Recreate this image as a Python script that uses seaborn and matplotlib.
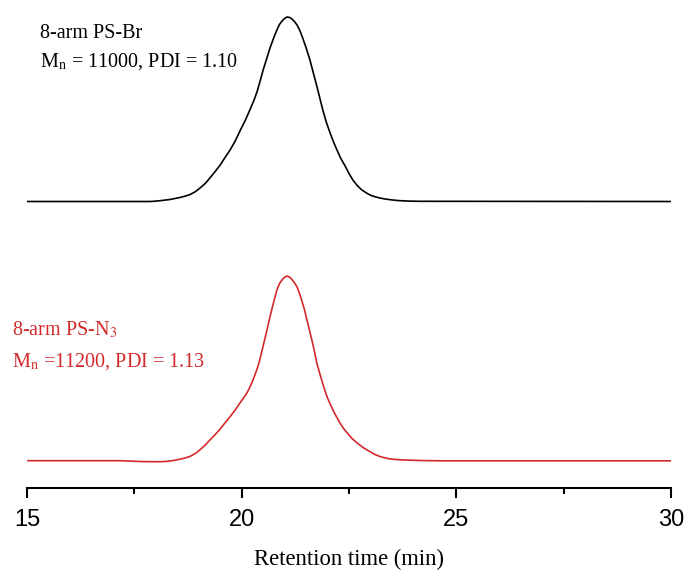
import numpy as np
import pandas as pd
import seaborn as sns
import matplotlib.pyplot as plt

# GPC traces, detector response (a.u.) above each trace's own baseline
br_time = [15.0, 17.86, 17.98, 18.10, 18.33, 18.56, 18.68, 18.80, 18.92, 19.03,
           19.15, 19.26, 19.38, 19.50, 19.61, 19.73, 19.85, 19.96, 20.08, 20.19,
           20.28, 20.36, 20.43, 20.50, 20.58, 20.66, 20.74, 20.82, 20.88, 20.94,
           21.00, 21.06, 21.12, 21.17, 21.23, 21.29, 21.36, 21.43, 21.51, 21.59,
           21.67, 21.75, 21.82, 21.89, 21.97, 22.06, 22.14, 22.22, 22.31, 22.41,
           22.50, 22.59, 22.69, 22.80, 22.90, 22.99, 23.10, 23.22, 23.34, 23.46,
           23.58, 23.69, 23.90, 24.15, 30.0]
br_signal = [0, 0, 0.3, 0.8, 2.0, 4.0, 5.3, 7.0, 9.8, 13.5,
             18.0, 23.5, 29.8, 36.5, 43.8, 51.5, 60.5, 70.5, 80.8, 91.5,
             100.5, 110.0, 120.5, 131.5, 142.5, 153.5, 163.0, 171.5, 177.0, 180.5,
             183.0, 184.5, 184.0, 182.5, 180.0, 176.5, 170.5, 162.5, 152.5, 141.5,
             128.5, 115.5, 103.5, 91.5, 79.5, 68.5, 59.5, 51.5, 43.0, 35.5,
             28.0, 21.5, 16.0, 11.5, 8.7, 6.5, 4.8, 3.5, 2.5, 1.8,
             1.2, 0.8, 0.4, 0.2, 0]

n3_time = [15.0, 17.17, 17.40, 17.63, 17.86, 18.10, 18.22, 18.33, 18.45, 18.56,
           18.68, 18.80, 18.92, 19.03, 19.15, 19.26, 19.38, 19.50, 19.61, 19.73,
           19.85, 19.96, 20.04, 20.12, 20.18, 20.24, 20.30, 20.36, 20.42, 20.47,
           20.53, 20.59, 20.65, 20.71, 20.77, 20.82, 20.88, 20.94, 21.00, 21.06,
           21.12, 21.17, 21.23, 21.29, 21.35, 21.41, 21.47, 21.52, 21.58, 21.64,
           21.70, 21.75, 21.81, 21.87, 21.93, 21.99, 22.07, 22.15, 22.22, 22.29,
           22.38, 22.48, 22.58, 22.69, 22.84, 22.99, 23.10, 23.22, 23.34, 23.46,
           23.69, 23.92, 24.25, 24.62, 30.0]
n3_signal = [0, 0, -0.4, -0.8, -1.0, -1.0, -0.8, -0.3, 0.5, 1.5,
             2.7, 4.3, 7.2, 11.0, 15.6, 20.7, 26.0, 31.7, 37.7, 44.0,
             50.7, 57.7, 62.5, 67.5, 72.5, 78.2, 84.8, 91.8, 100.5, 109.5,
             120.0, 130.7, 142.0, 152.7, 162.5, 170.7, 177.0, 180.7, 183.5, 184.7,
             183.5, 181.2, 178.0, 173.7, 167.0, 158.7, 150.0, 140.7, 130.5, 119.7,
             108.5, 97.7, 88.5, 79.7, 71.5, 63.7, 55.8, 48.7, 43.0, 37.7,
             31.8, 26.7, 21.8, 17.7, 12.8, 9.0, 6.3, 4.2, 2.8, 1.7,
             0.9, 0.5, 0.1, -0.1, -0.1]

br_df = pd.DataFrame({'time': br_time, 'signal': br_signal})
n3_df = pd.DataFrame({'time': n3_time, 'signal': n3_signal})

sns.set_style('ticks')
plt.rcParams['font.family'] = ['Liberation Sans', 'DejaVu Sans']
plt.rcParams['mathtext.fontset'] = 'stix'
plt.rcParams['text.color'] = 'black'
plt.rcParams['axes.labelcolor'] = 'black'
plt.rcParams['xtick.color'] = 'black'
plt.rcParams['axes.edgecolor'] = 'black'

red = '#d3292b'
serif = ['Liberation Serif', 'DejaVu Serif']

fig = plt.figure(figsize=(6.9, 5.76), dpi=100)
ax = fig.add_axes([27 / 690, 88 / 576, 644 / 690, 488 / 576])

# stack the traces: black one higher up, red one near the axis
sns.lineplot(x=br_df['time'], y=br_df['signal'] + 286.5, ax=ax, color='black',
             linewidth=1.2, sort=False)
sns.lineplot(x=n3_df['time'], y=n3_df['signal'] + 27.3, ax=ax, color=red,
             linewidth=1.2, sort=False)

ax.set_xlim(15, 30)
ax.set_ylim(0, 488)
ax.set_xticks([15, 20, 25, 30])
ax.set_xticks([17.5, 22.5, 27.5], minor=True)
ax.set_yticks([])
ax.set_ylabel('')
for side in ['left', 'right', 'top']:
    ax.spines[side].set_visible(False)
ax.spines['bottom'].set_linewidth(1.5)
ax.tick_params(axis='x', which='major', length=7, width=1.5, labelsize=17, pad=8)
ax.tick_params(axis='x', which='minor', length=4, width=1.5)
ax.set_xlabel('Retention time (min)', fontsize=16.3, family=serif, labelpad=13)

ax.text(15.30, 450, '8-arm PS-Br', fontsize=14.5, family=serif, va='baseline')
ax.text(15.30, 421, r'M$_{\rm n}$ = 11000, PDI = 1.10', fontsize=14.5,
        family=serif, va='baseline')
ax.text(14.65, 153, r'8-arm PS-N$_{\rm 3}$', fontsize=14.5, family=serif,
        va='baseline', color=red, clip_on=False)
ax.text(14.65, 121, r'M$_{\rm n}$ =11200, PDI = 1.13', fontsize=14.5,
        family=serif, va='baseline', color=red, clip_on=False)

fig.savefig('out.png', dpi=100)
